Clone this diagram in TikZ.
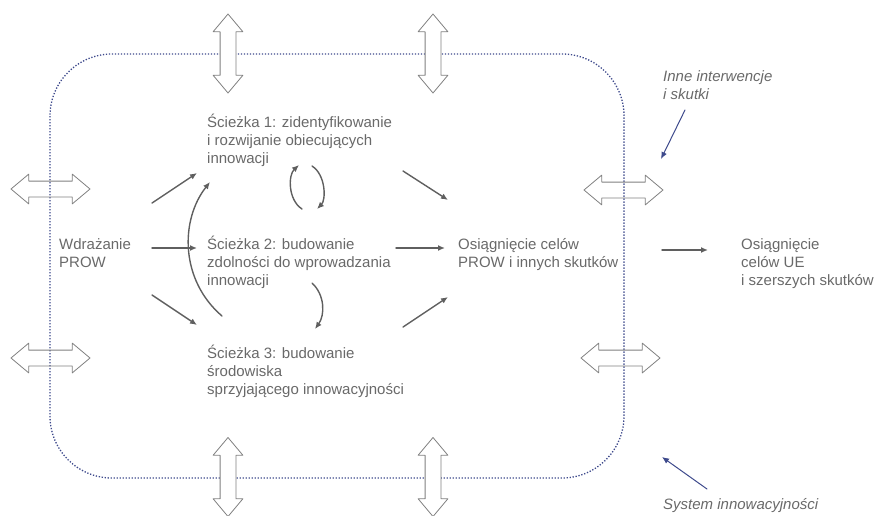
\documentclass[tikz,border=0pt]{standalone}
\usepackage{fontspec}
\setmainfont{Liberation Sans}
\usetikzlibrary{shapes.arrows,arrows.meta}
\definecolor{txtgray}{RGB}{105,105,105}
\definecolor{arrgray}{RGB}{95,95,95}
\definecolor{sysblue}{RGB}{62,74,140}
\begin{document}
\begin{tikzpicture}[x=1pt,y=-1pt,line cap=round,line join=round,
  txt/.style={anchor=base west,align=left,inner sep=0pt,text=txtgray,font=\fontsize{15}{18}\selectfont},
  note/.style={txt,font=\fontsize{15}{18}\selectfont\itshape},
  flow/.style={draw=arrgray,line width=1.4pt,-{Latex[length=7pt,width=6pt]}},
  hint/.style={draw=sysblue,line width=1pt,-{Latex[length=7pt,width=6pt]}},
  dbl/.style={double arrow,draw=gray,fill=white,line width=0.8pt,inner sep=7.5pt,
    minimum height=79pt,double arrow head extend=7pt,double arrow tip angle=80}]
\useasboundingbox (0,0) rectangle (874,515);
% system border
\draw[sysblue,line width=1.3pt,line cap=butt,dash pattern=on 1.3pt off 1.7pt,rounded corners=62pt] (50,54) rectangle (624,478);
% exchange with the surroundings
\node[dbl,rotate=90] (up1) at (228,53.5) {};
\node[dbl,rotate=90] (up2) at (433,53.5) {};
\node[dbl,rotate=90] (dn1) at (228,477) {};
\node[dbl,rotate=90] (dn2) at (433,477) {};
\node[dbl,fill=none] (lt1) at (50.5,189) {};
\node[dbl,fill=none] (lt2) at (50.5,358) {};
\node[dbl,fill=none] (rt1) at (623.5,190) {};
\node[dbl,fill=none] (rt2) at (620.5,358) {};
% texts (placed at the baseline of the last line)
\node[txt] (wdr) at (59,267) {Wdrażanie\\PROW};
\node[txt] (s1) at (207,163) {Ścieżka 1: zidentyfikowanie\\i rozwijanie obiecujących\\innowacji};
\node[txt] (s2) at (207,285) {Ścieżka 2: budowanie\\zdolności do wprowadzania\\innowacji};
\node[txt] (s3) at (207,394) {Ścieżka 3: budowanie\\środowiska\\sprzyjającego innowacyjności};
\node[txt] (cel) at (458,267) {Osiągnięcie celów\\PROW i innych skutków};
\node[txt] (ue) at (741,285) {Osiągnięcie\\celów UE\\i szerszych skutków};
\node[note] (inne) at (663,99) {Inne interwencje\\i skutki};
\node[note] (sys) at (663,509) {System innowacyjności};
% arrow ends
\coordinate (w1a) at (152,203); \coordinate (w1b) at (197,173);
\coordinate (w2a) at (152,248); \coordinate (w2b) at (197,248);
\coordinate (w3a) at (152,295); \coordinate (w3b) at (197,325);
\coordinate (c1a) at (403,171); \coordinate (c1b) at (448,200);
\coordinate (c2a) at (396,248); \coordinate (c2b) at (445,248);
\coordinate (c3a) at (403,327); \coordinate (c3b) at (448,297);
\coordinate (uea) at (662,250); \coordinate (ueb) at (708,250);
\coordinate (lpa) at (302,209); \coordinate (lpb) at (299,165);
\coordinate (rpa) at (312,166); \coordinate (rpb) at (317,209);
\coordinate (dna) at (312,283); \coordinate (dnb) at (315,329);
\coordinate (bka) at (222,316); \coordinate (bkb) at (210,182);
\coordinate (ina) at (685,110); \coordinate (inb) at (661,159);
\coordinate (sya) at (707,489); \coordinate (syb) at (662,457);
% flows
\draw[flow] (w1a) -- (w1b);
\draw[flow] (w2a) -- (w2b);
\draw[flow] (w3a) -- (w3b);
\draw[flow] (c1a) -- (c1b);
\draw[flow] (c2a) -- (c2b);
\draw[flow] (c3a) -- (c3b);
\draw[flow] (uea) -- (ueb);
\draw[flow] (lpa) .. controls (288,200) and (288,175) .. (lpb);
\draw[flow] (rpa) .. controls (326,175) and (326,200) .. (rpb);
\draw[flow] (dna) .. controls (325,295) and (325,315) .. (dnb);
\draw[flow] (bka) .. controls (180,280) and (180,220) .. (bkb);
\draw[hint] (ina) -- (inb);
\draw[hint] (sya) -- (syb);
\end{tikzpicture}
\end{document}
